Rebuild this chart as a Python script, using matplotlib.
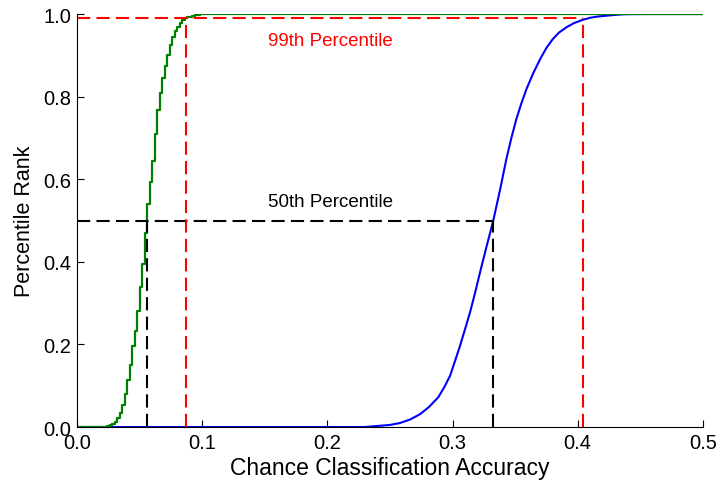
import matplotlib
matplotlib.use('Agg')
import matplotlib.pyplot as plt

plt.rcParams['font.family'] = ['Liberation Sans', 'DejaVu Sans']
plt.rcParams['lines.scale_dashes'] = False

green_x = [0.0, 0.020, 0.022, 0.024, 0.026, 0.028, 0.030, 0.032, 0.034, 0.036,
           0.038, 0.040, 0.042, 0.044, 0.046, 0.048, 0.050, 0.052, 0.054,
           0.056, 0.058, 0.060, 0.062, 0.064, 0.066, 0.068, 0.070, 0.072,
           0.074, 0.076, 0.078, 0.080, 0.082, 0.084, 0.086, 0.088, 0.090,
           0.092, 0.094, 0.096, 0.098, 0.100, 0.104, 0.5]
green_y = [0.0, 0.000, 0.001, 0.003, 0.005, 0.008, 0.013, 0.021, 0.035, 0.054,
           0.079, 0.115, 0.150, 0.195, 0.233, 0.282, 0.340, 0.395, 0.470,
           0.540, 0.593, 0.645, 0.710, 0.767, 0.808, 0.845, 0.874, 0.900,
           0.926, 0.945, 0.958, 0.969, 0.978, 0.985, 0.9905, 0.992, 0.994,
           0.996, 0.997, 0.998, 0.999, 0.9995, 1.0, 1.0]

# blue: smooth CDF
blue_x = [0.0, 0.230, 0.242, 0.250, 0.258, 0.266, 0.274, 0.281, 0.2886, 0.2935,
          0.298, 0.302, 0.306, 0.310, 0.314, 0.318, 0.322, 0.327, 0.3325,
          0.338, 0.343, 0.347, 0.351, 0.355, 0.359, 0.3645, 0.370, 0.375,
          0.380, 0.385, 0.391, 0.397, 0.404, 0.410, 0.416, 0.423, 0.430,
          0.437, 0.444, 0.455, 0.5]
blue_y = [0.0, 0.0, 0.003, 0.005, 0.0097, 0.018, 0.031, 0.048, 0.072, 0.097,
          0.124, 0.160, 0.197, 0.237, 0.278, 0.325, 0.375, 0.435, 0.4995,
          0.575, 0.649, 0.700, 0.746, 0.784, 0.818, 0.857, 0.891, 0.918,
          0.939, 0.955, 0.968, 0.978, 0.986, 0.991, 0.994, 0.996, 0.998,
          0.9995, 0.9998, 1.0, 1.0]

p50 = [0.0559, 0.332]
p99 = [0.087, 0.404]

fig = plt.figure(figsize=(7.18, 4.85), dpi=100)
ax = fig.add_axes([0.1072, 0.1175, 0.8718, 0.8515])

ax.plot(blue_x, blue_y, color='blue', lw=1.5)
ax.plot(green_x, green_y, color='green', lw=1.6, drawstyle='steps-post')

dash = (9.5, 4.5)
ax.plot([0, p50[1]], [0.5, 0.5], color='k', lw=1.5, dashes=dash)
for xv in p50:
    ax.plot([xv, xv], [0, 0.5], color='k', lw=1.5, dashes=dash)
ax.plot([0, p99[1]], [0.99, 0.99], color='red', lw=1.5, dashes=dash)
for xv in p99:
    ax.plot([xv, xv], [0, 0.99], color='red', lw=1.5, dashes=dash)

ax.text(0.1525, 0.545, '50th Percentile', color='k', fontsize=13.5, va='center', ha='left')
ax.text(0.1525, 0.935, '99th Percentile', color='red', fontsize=13.5, va='center', ha='left')

ax.set_xlim(0, 0.5)
ax.set_ylim(0, 1.0)
ax.set_xticks([0.0, 0.1, 0.2, 0.3, 0.4, 0.5])
ax.set_yticks([0.0, 0.2, 0.4, 0.6, 0.8, 1.0])
ax.set_xticklabels(['0.0', '0.1', '0.2', '0.3', '0.4', '0.5'])
ax.set_yticklabels(['0.0', '0.2', '0.4', '0.6', '0.8', '1.0'])
ax.tick_params(direction='in', length=5, labelsize=14.5, pad=4)
ax.spines['top'].set_visible(False)
ax.spines['right'].set_visible(False)
ax.set_xlabel('Chance Classification Accuracy', fontsize=16.5, labelpad=3)
ax.set_ylabel('Percentile Rank', fontsize=15.5, labelpad=6)

fig.savefig('out.png', dpi=100)
